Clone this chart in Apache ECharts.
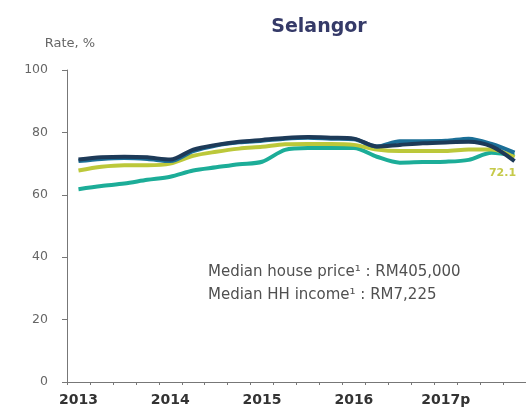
<!DOCTYPE html>
<html>
<head>
<meta charset="utf-8">
<script src="https://cdn.jsdelivr.net/npm/echarts@6/dist/echarts.min.js"></script>
<style>html,body{margin:0;padding:0;background:#fff;}#c{width:526px;height:410px;}</style>
</head>
<body>
<div id="c"></div>
<script>
var quarters = ['2013 Q1','2013 Q2','2013 Q3','2013 Q4','2014 Q1','2014 Q2','2014 Q3','2014 Q4','2015 Q1','2015 Q2','2015 Q3','2015 Q4','2016 Q1','2016 Q2','2016 Q3','2016 Q4','2017p Q1','2017p Q2','2017p Q3','2017p Q4'];
var yearLabels = ['2013','2014','2015','2016','2017p'];
var yTicks = [0,20,40,60,80,100];
var navySeries  = [71.3,72.0,72.2,72.0,71.3,74.5,76.0,77.0,77.6,78.2,78.5,78.3,78.0,75.5,76.0,76.5,76.8,77.0,75.5,70.8];
var blueSeries  = [70.8,71.5,71.8,71.5,70.8,74.0,75.8,76.8,77.3,78.0,78.3,78.0,77.8,75.5,77.2,77.2,77.3,78.0,76.3,73.5];
var limeSeries  = [67.8,69.0,69.5,69.5,70.0,72.5,73.8,74.8,75.4,76.2,76.3,76.3,76.0,74.5,74.0,74.0,74.0,74.5,74.5,72.1];
var tealSeries  = [61.8,62.8,63.6,64.8,65.8,67.8,68.8,69.8,70.6,74.4,75.0,75.0,75.0,72.2,70.3,70.5,70.6,71.2,73.5,72.6];
var noteLines = ['Median house price\u00b9 : RM405,000','Median HH income\u00b9 : RM7,225'];

var F = 'DejaVu Sans';
var chart = echarts.init(document.getElementById('c'), null, {renderer:'canvas'});
function lineSeries(name, data, color, z, label){
  var s = {name:name,type:'line',data:data,showSymbol:false,smooth:0.3,z:z,
    lineStyle:{width:4,color:color},itemStyle:{color:color},emphasis:{disabled:true}};
  if(label){
    s.endLabel = {show:true,align:'center',verticalAlign:'middle',distance:0,offset:[-12,16],
      color:'#c6ca4a',fontSize:11,fontWeight:'bold',fontFamily:F,
      formatter:function(p){return Number(p.value).toFixed(1);}};
  }
  return s;
}
chart.setOption({
  animation:false,
  backgroundColor:'#fff',
  title:{text:'Selangor',left:314,top:13,textAlign:'center',textStyle:{fontFamily:F,fontSize:19,fontWeight:'bold',color:'#353a68'}},
  grid:{left:67,top:70,width:461,height:312,containLabel:false},
  xAxis:{type:'category',data:quarters,boundaryGap:true,
    axisLine:{lineStyle:{color:'#777',width:1}},
    axisTick:{show:true,interval:0,length:3,lineStyle:{color:'#777'}},
    axisLabel:{interval:0,margin:11,color:'#333',fontFamily:F,fontWeight:'bold',fontSize:14,
      formatter:function(v,i){return i%4===0?yearLabels[i/4]:'';}}},
  yAxis:{type:'value',min:0,max:100,interval:20,
    name:'Rate, %',nameLocation:'end',nameGap:20,
    nameTextStyle:{align:'center',color:'#666',fontFamily:F,fontSize:13,padding:[0,0,0,6]},
    axisLine:{show:true,lineStyle:{color:'#777',width:1}},
    axisTick:{show:true,length:5,lineStyle:{color:'#777'}},
    splitLine:{show:false},
    axisLabel:{margin:19,color:'#666',fontFamily:F,fontSize:12.5,
      formatter:function(v){return yTicks.indexOf(v)>=0?String(v):'';}}},
  series:[
    lineSeries('teal',tealSeries,'#1cad98',2),
    lineSeries('lime',limeSeries,'#bcc83a',3,true),
    lineSeries('blue',blueSeries,'#1b6f97',4),
    lineSeries('navy',navySeries,'#1d3a58',5)
  ],
  graphic:[
    {type:'text',left:208,top:265,style:{text:noteLines[0],fontFamily:F,fontSize:15,fill:'#505050'}},
    {type:'text',left:208,top:288,style:{text:noteLines[1],fontFamily:F,fontSize:15,fill:'#505050'}}
  ]
});
</script>
</body>
</html>
